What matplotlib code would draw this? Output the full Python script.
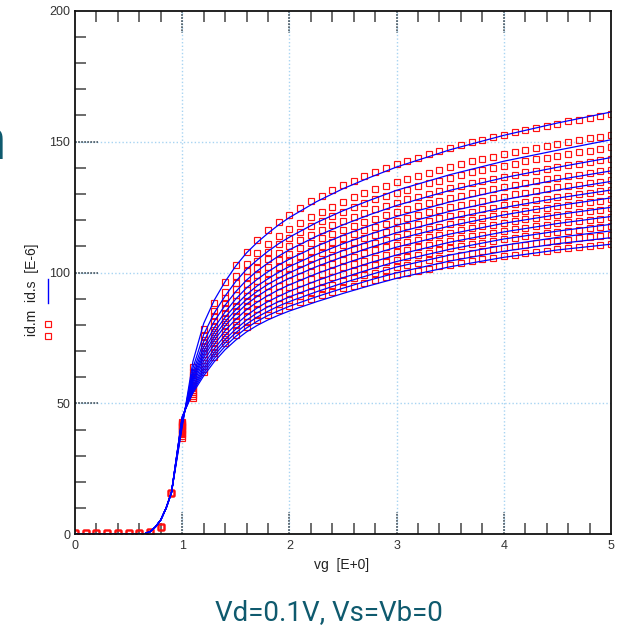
import matplotlib
matplotlib.use("Agg")
import matplotlib.pyplot as plt
from matplotlib.lines import Line2D
from matplotlib.ticker import MultipleLocator, FixedLocator
import matplotlib.transforms as mtrans

plt.rcParams['font.family'] = ['Liberation Sans', 'DejaVu Sans']

# ---------------- data ----------------
# measured points (red squares), common sub-threshold part
vg_meas_sub = [0.0, 0.1, 0.2, 0.3, 0.4, 0.5, 0.6, 0.7, 0.8, 0.9]
id_meas_sub = [0.4, 0.4, 0.4, 0.5, 0.5, 0.5, 0.6, 1.0, 2.9, 15.7]

vg_meas = [1.0, 1.1, 1.2, 1.3, 1.4, 1.5, 1.6, 1.7, 1.8, 1.9, 2.0,
           2.1, 2.2, 2.3, 2.4, 2.5, 2.6, 2.7, 2.8, 2.9, 3.0,
           3.1, 3.2, 3.3, 3.4, 3.5, 3.6, 3.7, 3.8, 3.9, 4.0,
           4.1, 4.2, 4.3, 4.4, 4.5, 4.6, 4.7, 4.8, 4.9, 5.0]

meas_01 = [36.6, 64.0, 78.6, 88.5, 96.4, 102.8, 108.0, 112.3, 116.2, 119.3, 122.1,
           124.8, 127.2, 129.4, 131.4, 133.3, 135.1, 136.8, 138.4, 139.9, 141.3,
           142.6, 143.9, 145.1, 146.3, 147.5, 148.6, 149.7, 150.7, 151.7, 152.6,
           153.5, 154.4, 155.3, 156.1, 156.9, 157.7, 158.4, 159.1, 159.8, 160.5]
meas_02 = [37.6, 62.1, 75.9, 85.2, 92.6, 98.5, 103.4, 107.4, 111.0, 113.9, 116.5,
           119.0, 121.3, 123.3, 125.2, 127.0, 128.7, 130.3, 131.8, 133.2, 134.5,
           135.8, 137.0, 138.1, 139.3, 140.4, 141.4, 142.5, 143.4, 144.3, 145.2,
           146.0, 146.9, 147.7, 148.5, 149.2, 149.9, 150.6, 151.2, 151.9, 152.6]
meas_03 = [38.2, 60.9, 74.4, 83.2, 90.4, 96.0, 100.7, 104.5, 107.9, 110.7, 113.2,
           115.6, 117.7, 119.7, 121.5, 123.3, 124.9, 126.4, 127.9, 129.2, 130.5,
           131.7, 132.9, 134.0, 135.1, 136.2, 137.2, 138.2, 139.1, 139.9, 140.8,
           141.6, 142.4, 143.2, 143.9, 144.6, 145.3, 146.0, 146.6, 147.2, 147.8]
meas_04 = [38.8, 59.9, 72.9, 81.4, 88.3, 93.6, 98.1, 101.8, 105.0, 107.6, 110.0,
           112.3, 114.4, 116.3, 118.1, 119.7, 121.3, 122.8, 124.2, 125.5, 126.7,
           127.9, 129.0, 130.1, 131.1, 132.2, 133.1, 134.1, 134.9, 135.8, 136.6,
           137.4, 138.2, 138.9, 139.6, 140.3, 141.0, 141.6, 142.2, 142.8, 143.4]
meas_05 = [39.4, 58.8, 71.5, 79.6, 86.3, 91.3, 95.6, 99.2, 102.2, 104.8, 107.1,
           109.2, 111.2, 113.1, 114.8, 116.4, 117.9, 119.3, 120.6, 121.9, 123.1,
           124.2, 125.3, 126.4, 127.4, 128.4, 129.3, 130.2, 131.1, 131.9, 132.7,
           133.4, 134.2, 134.9, 135.6, 136.2, 136.9, 137.4, 138.0, 138.6, 139.1]
meas_06 = [39.9, 57.9, 70.2, 78.0, 84.5, 89.2, 93.4, 96.8, 99.7, 102.1, 104.3,
           106.4, 108.3, 110.1, 111.7, 113.3, 114.7, 116.1, 117.4, 118.7, 119.8,
           120.9, 122.0, 123.0, 124.0, 124.9, 125.8, 126.7, 127.5, 128.3, 129.0,
           129.8, 130.5, 131.2, 131.8, 132.5, 133.1, 133.6, 134.2, 134.7, 135.3]
meas_07 = [40.3, 57.0, 68.9, 76.4, 82.7, 87.2, 91.2, 94.5, 97.3, 99.6, 101.7,
           103.7, 105.5, 107.3, 108.8, 110.4, 111.7, 113.1, 114.3, 115.5, 116.6,
           117.7, 118.7, 119.7, 120.7, 121.6, 122.4, 123.3, 124.1, 124.8, 125.6,
           126.3, 126.9, 127.6, 128.2, 128.9, 129.4, 130.0, 130.5, 131.0, 131.5]
meas_08 = [40.8, 56.1, 67.7, 74.9, 81.0, 85.3, 89.1, 92.3, 94.9, 97.2, 99.2,
           101.1, 102.8, 104.5, 106.1, 107.6, 108.8, 110.1, 111.4, 112.5, 113.6,
           114.6, 115.6, 116.5, 117.5, 118.4, 119.2, 120.0, 120.8, 121.5, 122.2,
           122.9, 123.6, 124.2, 124.8, 125.4, 125.9, 126.4, 126.9, 127.4, 128.0]
meas_09 = [41.2, 55.3, 66.6, 73.5, 79.4, 83.4, 87.1, 90.2, 92.6, 94.8, 96.7,
           98.6, 100.2, 101.9, 103.3, 104.8, 106.0, 107.3, 108.5, 109.6, 110.6,
           111.6, 112.6, 113.5, 114.4, 115.2, 116.1, 116.9, 117.6, 118.3, 119.0,
           119.6, 120.3, 120.9, 121.5, 122.0, 122.5, 123.0, 123.5, 124.0, 124.5]
meas_10 = [41.7, 54.5, 65.4, 72.1, 77.8, 81.6, 85.2, 88.1, 90.4, 92.5, 94.4,
           96.1, 97.7, 99.3, 100.7, 102.1, 103.3, 104.5, 105.7, 106.8, 107.8,
           108.7, 109.6, 110.5, 111.4, 112.2, 113.0, 113.8, 114.5, 115.1, 115.8,
           116.5, 117.1, 117.6, 118.2, 118.8, 119.2, 119.7, 120.2, 120.6, 121.1]
meas_11 = [42.1, 53.7, 64.3, 70.7, 76.2, 79.8, 83.2, 86.1, 88.3, 90.2, 92.0,
           93.7, 95.2, 96.7, 98.1, 99.5, 100.6, 101.8, 102.9, 104.0, 104.9,
           105.9, 106.8, 107.6, 108.5, 109.2, 110.0, 110.7, 111.4, 112.1, 112.7,
           113.3, 113.9, 114.5, 115.0, 115.5, 116.0, 116.4, 116.9, 117.3, 117.8]
meas_12 = [42.6, 52.8, 63.2, 69.3, 74.6, 77.9, 81.2, 83.9, 86.0, 87.9, 89.6,
           91.1, 92.6, 94.1, 95.4, 96.8, 97.8, 99.0, 100.0, 101.0, 102.0,
           102.9, 103.7, 104.6, 105.4, 106.1, 106.8, 107.6, 108.2, 108.8, 109.5,
           110.1, 110.6, 111.1, 111.7, 112.2, 112.6, 113.0, 113.4, 113.9, 114.3]
meas_13 = [43.0, 52.0, 62.0, 67.8, 72.9, 76.0, 79.2, 81.8, 83.7, 85.5, 87.1,
           88.6, 90.0, 91.4, 92.7, 94.0, 95.0, 96.1, 97.1, 98.1, 99.0,
           99.9, 100.7, 101.5, 102.3, 103.0, 103.7, 104.4, 105.0, 105.6, 106.2,
           106.8, 107.3, 107.8, 108.3, 108.8, 109.2, 109.6, 110.0, 110.4, 110.8]

# simulated curves (blue lines), common sub-threshold part
vg_sim_sub = [0.0, 0.5, 0.6, 0.65, 0.7, 0.75, 0.8, 0.85, 0.9]
id_sim_sub = [0.0, 0.0, 0.05, 0.2, 1.0, 2.8, 5.5, 10.0, 16.0]

vg_sim = [1.0, 1.1, 1.2, 1.3, 1.4, 1.5, 1.6, 1.7, 1.8, 1.9, 2.0,
          2.25, 2.5, 2.75, 3.0, 3.5, 4.0, 4.5, 5.0]

sim_01 = [41.0, 66.0, 80.5, 89.5, 96.5, 102.5, 107.5, 111.5, 115.0, 118.2, 121.0, 127.0, 132.0, 136.3, 140.3, 146.9, 152.4, 157.1, 161.3]
sim_02 = [41.8, 63.5, 76.3, 84.6, 91.0, 96.6, 101.2, 104.8, 108.1, 111.0, 113.5, 119.0, 123.6, 127.6, 131.4, 137.4, 142.5, 146.7, 150.7]
sim_03 = [42.4, 61.9, 73.6, 81.4, 87.5, 92.7, 97.1, 100.6, 103.6, 106.3, 108.7, 113.8, 118.2, 122.1, 125.6, 131.4, 136.2, 140.2, 143.9]
sim_04 = [42.8, 60.7, 71.6, 79.0, 84.9, 89.9, 94.1, 97.4, 100.3, 102.9, 105.1, 110.0, 114.2, 117.9, 121.4, 127.0, 131.6, 135.4, 138.8]
sim_05 = [43.1, 59.7, 70.0, 77.2, 82.9, 87.6, 91.6, 94.9, 97.6, 100.1, 102.3, 106.9, 111.0, 114.6, 118.0, 123.4, 127.8, 131.5, 134.8]
sim_06 = [43.4, 58.9, 68.7, 75.6, 81.2, 85.8, 89.7, 92.8, 95.5, 97.8, 99.9, 104.5, 108.4, 111.9, 115.2, 120.5, 124.8, 128.4, 131.5]
sim_07 = [43.6, 58.2, 67.5, 74.2, 79.6, 84.1, 87.9, 90.9, 93.5, 95.8, 97.8, 102.2, 106.0, 109.5, 112.7, 117.8, 122.0, 125.5, 128.5]
sim_08 = [43.9, 57.4, 66.1, 72.6, 77.8, 82.1, 85.8, 88.7, 91.2, 93.4, 95.3, 99.5, 103.2, 106.6, 109.7, 114.7, 118.8, 122.1, 124.9]
sim_09 = [44.2, 56.5, 64.7, 70.9, 76.0, 80.1, 83.6, 86.5, 88.9, 90.9, 92.8, 96.8, 100.4, 103.7, 106.7, 111.6, 115.5, 118.7, 121.4]
sim_10 = [44.4, 55.8, 63.5, 69.5, 74.4, 78.4, 81.8, 84.6, 86.9, 88.9, 90.7, 94.5, 98.0, 101.2, 104.2, 108.9, 112.8, 115.8, 118.4]
sim_11 = [44.6, 55.2, 62.5, 68.4, 73.1, 77.0, 80.3, 83.0, 85.2, 87.2, 88.9, 92.6, 96.0, 99.1, 102.1, 106.7, 110.4, 113.4, 115.9]
sim_12 = [44.8, 54.6, 61.5, 67.2, 71.8, 75.6, 78.8, 81.4, 83.6, 85.4, 87.1, 90.7, 94.0, 97.1, 99.9, 104.4, 108.1, 111.0, 113.3]
sim_13 = [45.0, 54.0, 60.5, 66.0, 70.5, 74.2, 77.3, 79.8, 81.9, 83.7, 85.3, 88.8, 92.0, 95.0, 97.8, 102.2, 105.8, 108.6, 110.8]

meas_curves = [meas_01, meas_02, meas_03, meas_04, meas_05, meas_06, meas_07,
               meas_08, meas_09, meas_10, meas_11, meas_12, meas_13]
sim_curves = [sim_01, sim_02, sim_03, sim_04, sim_05, sim_06, sim_07,
              sim_08, sim_09, sim_10, sim_11, sim_12, sim_13]

x_major = [0, 1, 2, 3, 4, 5]
y_major = [0, 50, 100, 150, 200]

# ---------------- figure ----------------
W, H = 625, 641
fig = plt.figure(figsize=(W / 100, H / 100), dpi=100)
fig.patch.set_facecolor('white')

def fx(px):
    return px / W

def fy(py):
    return 1 - py / H

ax = fig.add_axes([fx(75), fy(534.3), fx(611) - fx(75), fy(10.7) - fy(534.3)])
ax.set_xlim(0, 5)
ax.set_ylim(0, 200)

grid_col = '#a8d4f2'
for xv in x_major[1:-1]:
    ax.axvline(xv, color=grid_col, lw=1.0, ls=(0, (1, 1.6)), zorder=1)
for yv in y_major[1:-1]:
    ax.axhline(yv, color=grid_col, lw=1.0, ls=(0, (1, 1.6)), zorder=1)

# measured: red squares
for mc in meas_curves:
    ax.plot(vg_meas_sub + vg_meas, id_meas_sub + mc, ls='none', marker='s',
            ms=3.7, mfc='none', mec='#ff1010', mew=0.85, zorder=3, clip_on=True)
# simulated: blue lines
for sc in sim_curves:
    ax.plot(vg_sim_sub + vg_sim, id_sim_sub + sc, color='#0000ff', lw=0.9,
            zorder=4, clip_on=True)

# ticks
ax.xaxis.set_major_locator(FixedLocator(x_major))
ax.yaxis.set_major_locator(FixedLocator(y_major))
ax.xaxis.set_minor_locator(MultipleLocator(0.2))
ax.yaxis.set_minor_locator(MultipleLocator(10))
ax.tick_params(which='major', length=0, pad=3.5, labelsize=9, labelcolor='#333333')
ax.tick_params(which='minor', direction='in', length=8, width=1.1, color='#444444',
               top=True, bottom=True, left=True, right=False)
ax.tick_params(axis='x', which='major', pad=4)

# long dotted major tick marks
tick_col = '#3a4a55'
bx = mtrans.blended_transform_factory(ax.transData, ax.transAxes)
by = mtrans.blended_transform_factory(ax.transAxes, ax.transData)
for xv in x_major[1:-1]:
    ax.plot([xv, xv], [0, 0.043], transform=bx, color=tick_col, lw=1.1,
            ls=(0, (1.2, 0.8)), zorder=5, clip_on=False)
    ax.plot([xv, xv], [1, 1 - 0.043], transform=bx, color=tick_col, lw=1.1,
            ls=(0, (1.2, 0.8)), zorder=5, clip_on=False)
for yv in y_major[1:-1]:
    ax.plot([0, 0.043], [yv, yv], transform=by, color=tick_col, lw=1.1,
            ls=(0, (1.2, 0.8)), zorder=5, clip_on=False)

for sp in ax.spines.values():
    sp.set_linewidth(1.3)
    sp.set_color('#111111')
    sp.set_zorder(6)

# axis labels
fig.text(fx(342), fy(565), 'vg  [E+0]', ha='center', va='center', fontsize=10,
         color='#222222')
fig.text(fx(32), fy(290), 'id.m  id.s  [E-6]', rotation=90, ha='center',
         va='center', fontsize=10, color='#222222')
fig.add_artist(Line2D([fx(48), fx(48)], [fy(279), fy(303)], color='#0000ff',
                      lw=1.0, transform=fig.transFigure))
fig.add_artist(Line2D([fx(48), fx(48)], [fy(324), fy(336)], ls='none', marker='s',
                      ms=3.7, mfc='none', mec='#ff1010', mew=0.85,
                      transform=fig.transFigure))

# slide text
teal = '#0f5a6e'
fig.text(fx(329), fy(613), 'Vd=0.1V, Vs=Vb=0', ha='center', va='center',
         fontsize=20, color=teal, fontweight='normal',
         family=['Roboto', 'DejaVu Sans'])
fig.text(fx(6), fy(159), 'n', ha='right', va='baseline', fontsize=42, color=teal,
         family=['Liberation Sans', 'DejaVu Sans'])

fig.savefig('out.png', dpi=100, facecolor='white')
